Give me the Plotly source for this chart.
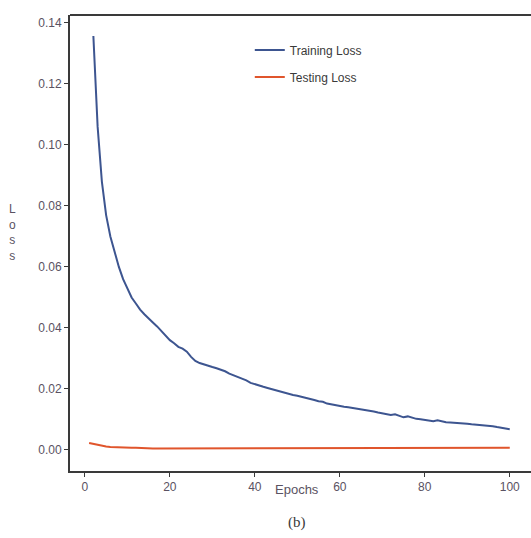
import plotly.graph_objects as go

train_epochs = list(range(2, 101))
train_loss = [
    0.1357, 0.1060, 0.0880, 0.0770, 0.0700, 0.0650, 0.0600, 0.0560, 0.0530,
    0.0500, 0.0480, 0.0460, 0.0445, 0.0430, 0.0418, 0.0405, 0.0390, 0.0375,
    0.0360, 0.0350, 0.0338, 0.0332, 0.0322, 0.0305, 0.0292, 0.0285, 0.0280,
    0.0276, 0.0272, 0.0268, 0.0264, 0.0258, 0.0250, 0.0245, 0.0238, 0.0233,
    0.0228, 0.0220, 0.0215, 0.0212, 0.0207, 0.0203, 0.0199, 0.0195, 0.0191,
    0.0188, 0.0184, 0.0180, 0.0178, 0.0175, 0.0172, 0.0168, 0.0164, 0.0160,
    0.0158, 0.0152, 0.0149, 0.0147, 0.0145, 0.0142, 0.0140, 0.0138, 0.0135,
    0.0132, 0.0130, 0.0128, 0.0126, 0.0123, 0.0121, 0.0118, 0.0115, 0.0117,
    0.0112, 0.0107, 0.0110, 0.0106, 0.0102, 0.0101, 0.0099, 0.0096, 0.0094,
    0.0097, 0.0093, 0.0091, 0.0090, 0.0089, 0.0088, 0.0089, 0.0086, 0.0084,
    0.0083, 0.0082, 0.0081, 0.0079, 0.0078, 0.0075, 0.0072, 0.0069, 0.0068,
]

test_epochs = list(range(1, 101))
test_loss = [
    0.0023, 0.0020, 0.0016, 0.0013, 0.0011, 0.0010, 0.0009, 0.0009, 0.0008, 0.0008,
    0.0007, 0.0007, 0.0006, 0.0006, 0.0006, 0.0005, 0.0005, 0.0005, 0.0005, 0.0005,
    0.0005, 0.0005, 0.0005, 0.0005, 0.0006, 0.0006, 0.0006, 0.0006, 0.0006, 0.0006,
    0.0006, 0.0006, 0.0007, 0.0007, 0.0007, 0.0007, 0.0007, 0.0007, 0.0007, 0.0007,
    0.0007, 0.0007, 0.0007, 0.0007, 0.0007, 0.0007, 0.0007, 0.0007, 0.0007, 0.0007,
    0.0007, 0.0007, 0.0007, 0.0007, 0.0007, 0.0007, 0.0007, 0.0007, 0.0007, 0.0007,
    0.0007, 0.0007, 0.0007, 0.0007, 0.0007, 0.0007, 0.0007, 0.0007, 0.0007, 0.0007,
    0.0007, 0.0007, 0.0007, 0.0007, 0.0007, 0.0007, 0.0007, 0.0007, 0.0007, 0.0007,
    0.0007, 0.0007, 0.0007, 0.0007, 0.0007, 0.0007, 0.0007, 0.0007, 0.0007, 0.0007,
    0.0007, 0.0007, 0.0007, 0.0007, 0.0007, 0.0007, 0.0007, 0.0007, 0.0007, 0.0007,
]

x_ticks = [0, 20, 40, 60, 80, 100]
y_ticks = [0.00, 0.02, 0.04, 0.06, 0.08, 0.10, 0.12, 0.14]

label_color = "#5a5262"
axis_color = "#3a3a3a"
font_family = "Liberation Sans, Arial, sans-serif"

fig = go.Figure()
fig.add_trace(go.Scatter(
    x=train_epochs, y=train_loss, mode="lines", name="Training Loss",
    line=dict(color="#3d5590", width=2), legendgroup="a",
))
fig.add_trace(go.Scatter(
    x=test_epochs, y=test_loss, mode="lines", name="Testing Loss",
    line=dict(color="#e0552c", width=2), legendgroup="b",
))

fig.update_layout(
    width=531, height=538,
    margin=dict(l=70, r=0, t=15, b=67),
    paper_bgcolor="white", plot_bgcolor="white",
    font=dict(family=font_family, size=12, color=label_color),
    showlegend=True,
    legend=dict(
        x=0.39, y=0.955, xanchor="left", yanchor="top",
        bgcolor="rgba(0,0,0,0)", tracegroupgap=8,
        font=dict(family="Liberation Sans Narrow, Liberation Sans, Arial, sans-serif",
                  size=12, color="#3a3a3a"),
        itemwidth=30,
    ),
    xaxis=dict(
        range=[-3.5, 105], tickvals=x_ticks, ticktext=[str(v) for v in x_ticks],
        showgrid=False, zeroline=False, showline=True, linecolor=axis_color,
        linewidth=2, mirror=False, ticks="outside", ticklen=4, tickcolor=axis_color,
        tickfont=dict(size=12, color=label_color),
    ),
    yaxis=dict(
        range=[-0.0069, 0.1426], tickvals=y_ticks,
        ticktext=[f"{v:.2f}" for v in y_ticks],
        showgrid=False, zeroline=False, showline=True, linecolor=axis_color,
        linewidth=2, mirror=False, ticks="outside", ticklen=4, tickcolor=axis_color,
        tickfont=dict(size=12, color=label_color),
    ),
    shapes=[
        dict(type="line", xref="paper", yref="paper", x0=0, x1=1.01, y0=1, y1=1,
             line=dict(color=axis_color, width=2)),
    ],
    annotations=[
        dict(text="Epochs", xref="paper", yref="paper", x=0.492, y=-0.02,
             xanchor="center", yanchor="top", showarrow=False,
             font=dict(size=13, color=label_color)),
        dict(text="(b)", xref="paper", yref="paper", x=0.492, y=-0.09,
             xanchor="center", yanchor="top", showarrow=False,
             font=dict(family="Liberation Serif, Times New Roman, serif", size=15,
                       color=axis_color)),
        dict(text="L<br>o<br>s<br>s", xref="paper", yref="paper", x=-0.125, y=0.594,
             xanchor="center", yanchor="top", showarrow=False, align="center",
             font=dict(size=12, color=label_color)),
    ],
)

fig.write_html("out.html", config={"displayModeBar": False})
